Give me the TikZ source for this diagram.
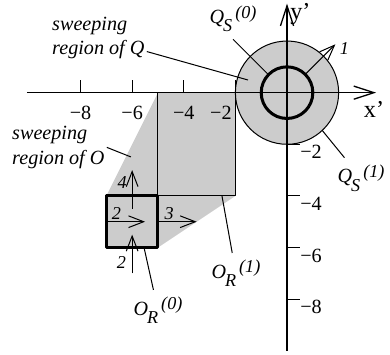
\documentclass[tikz,border=0pt]{standalone}
\usepackage{fontspec}
\setmainfont{Liberation Serif}
\usetikzlibrary{arrows.meta}
\newcommand{\sublab}[3]{\textit{#1}\kern-0.5pt\raisebox{-0.9ex}{\small\textit{#2}}\kern1.5pt\raisebox{0.6ex}{\small\textit{(#3)}}}

\begin{document}
\begin{tikzpicture}[x=0.45cm,y=0.45cm,line join=round,
	axis/.style={line width=0.65pt,-{Straight Barb[length=10pt,width=6.5pt]}},
	vec/.style={line width=0.5pt,-{Straight Barb[length=7.5pt,width=5.8pt]}},
	lead/.style={line width=0.5pt},
	thin/.style={line width=0.5pt},
	bold/.style={line width=1.5pt},
	lbl/.style={font=\itshape,align=left,inner sep=1pt},
	vlab/.style={font=\small\itshape,inner sep=0.8pt}]
		\useasboundingbox (-11.12,-10.13) rectangle (3.99,3.59);
		% sweeping region of O
		\fill[black!20] (-7,-6) -- (-7,-4) -- (-5,0) -- (-2,0) -- (-2,-4) -- (-5,-6) -- cycle;
		\draw[thin] (-5,-4) rectangle (-2,0);
		\draw[bold] (-7,-6) rectangle (-5,-4);
		% sweeping region of Q
		\draw[thin,fill=black!20] (0,0) circle (2);
		\draw[bold] (0,0) circle (1);
		% axes
		\coordinate (xs) at (-10.08,0);
		\coordinate (xe) at (3.45,0);
		\coordinate (ys) at (0,-10);
		\coordinate (ye) at (0,3.45);
		\draw[axis] (xs) -- (xe);
		\draw[axis] (ys) -- (ye);
		\node[font=\large] (xname) at (3.37,-0.67) {x’};
		\node[font=\large] (yname) at (0.52,3.05) {y’};
		\foreach \n in {8,6,4,2} {
			\draw[thin] (-\n,0) -- (-\n,0.5);
			\draw[thin] (0,-\n) -- (0.5,-\n);
			\node[anchor=west,inner sep=0pt] (ylab\n) at (0.5,-\n-0.31) {−\n};
		}
		\foreach \n in {8,6,4} \node (xlab\n) at (-\n,-0.79) {−\n};
		\node (xlab2) at (-2.56,-0.79) {−2};
		% velocities
		\draw[vec] (-7,-5) -- (-5.5,-5) node[vlab,pos=0.26,above] {2};
		\draw[vec] (-5,-5) -- (-3.5,-5) node[vlab,pos=0.29,above] {3};
		\draw[vec] (-6,-4.5) -- (-6,-3) node[vlab,pos=0.67,left,inner sep=2.5pt] {4};
		\draw[vec] (-6,-7) -- (-6,-5.5) node[vlab,pos=0.27,left,inner sep=2.8pt] {2};
		\draw[vec] (45:1) -- (45:2.65) node[vlab,right,inner sep=2pt,yshift=-2pt] {1};
		% labels
		\node[lbl,anchor=west] (sQ) at (-9.19,2.12) {sweeping\\region of Q};
		\node[lbl,anchor=west] (sO) at (-10.74,-2.12) {sweeping\\region of O};
		\node (qs0) at (-2.09,2.86) {\sublab{Q}{S}{0}};
		\node (qs1) at (2.87,-3.31) {\sublab{Q}{S}{1}};
		\node (or0) at (-5.0,-8.43) {\sublab{O}{R}{0}};
		\node (or1) at (-1.98,-7.0) {\sublab{O}{R}{1}};
		\coordinate (qin) at (-1.51,0.49);
		\coordinate (oin) at (-6.05,-2.49);
		\coordinate (qs0pt) at (136:1);
		\coordinate (qs1pt) at (-47:2);
		\coordinate (or0pt) at (-5.54,-6);
		\coordinate (or1pt) at (-2.52,-4);
		\draw[lead] (sQ) -- (qin);
		\draw[lead] (sO.east) -- (oin);
		\draw[lead] (qs0.south) -- (qs0pt);
		\draw[lead] (qs1pt) -- (qs1);
		\draw[lead] (or0pt) -- (or0);
		\draw[lead] (or1pt) -- (or1);
	\end{tikzpicture}
\end{document}
